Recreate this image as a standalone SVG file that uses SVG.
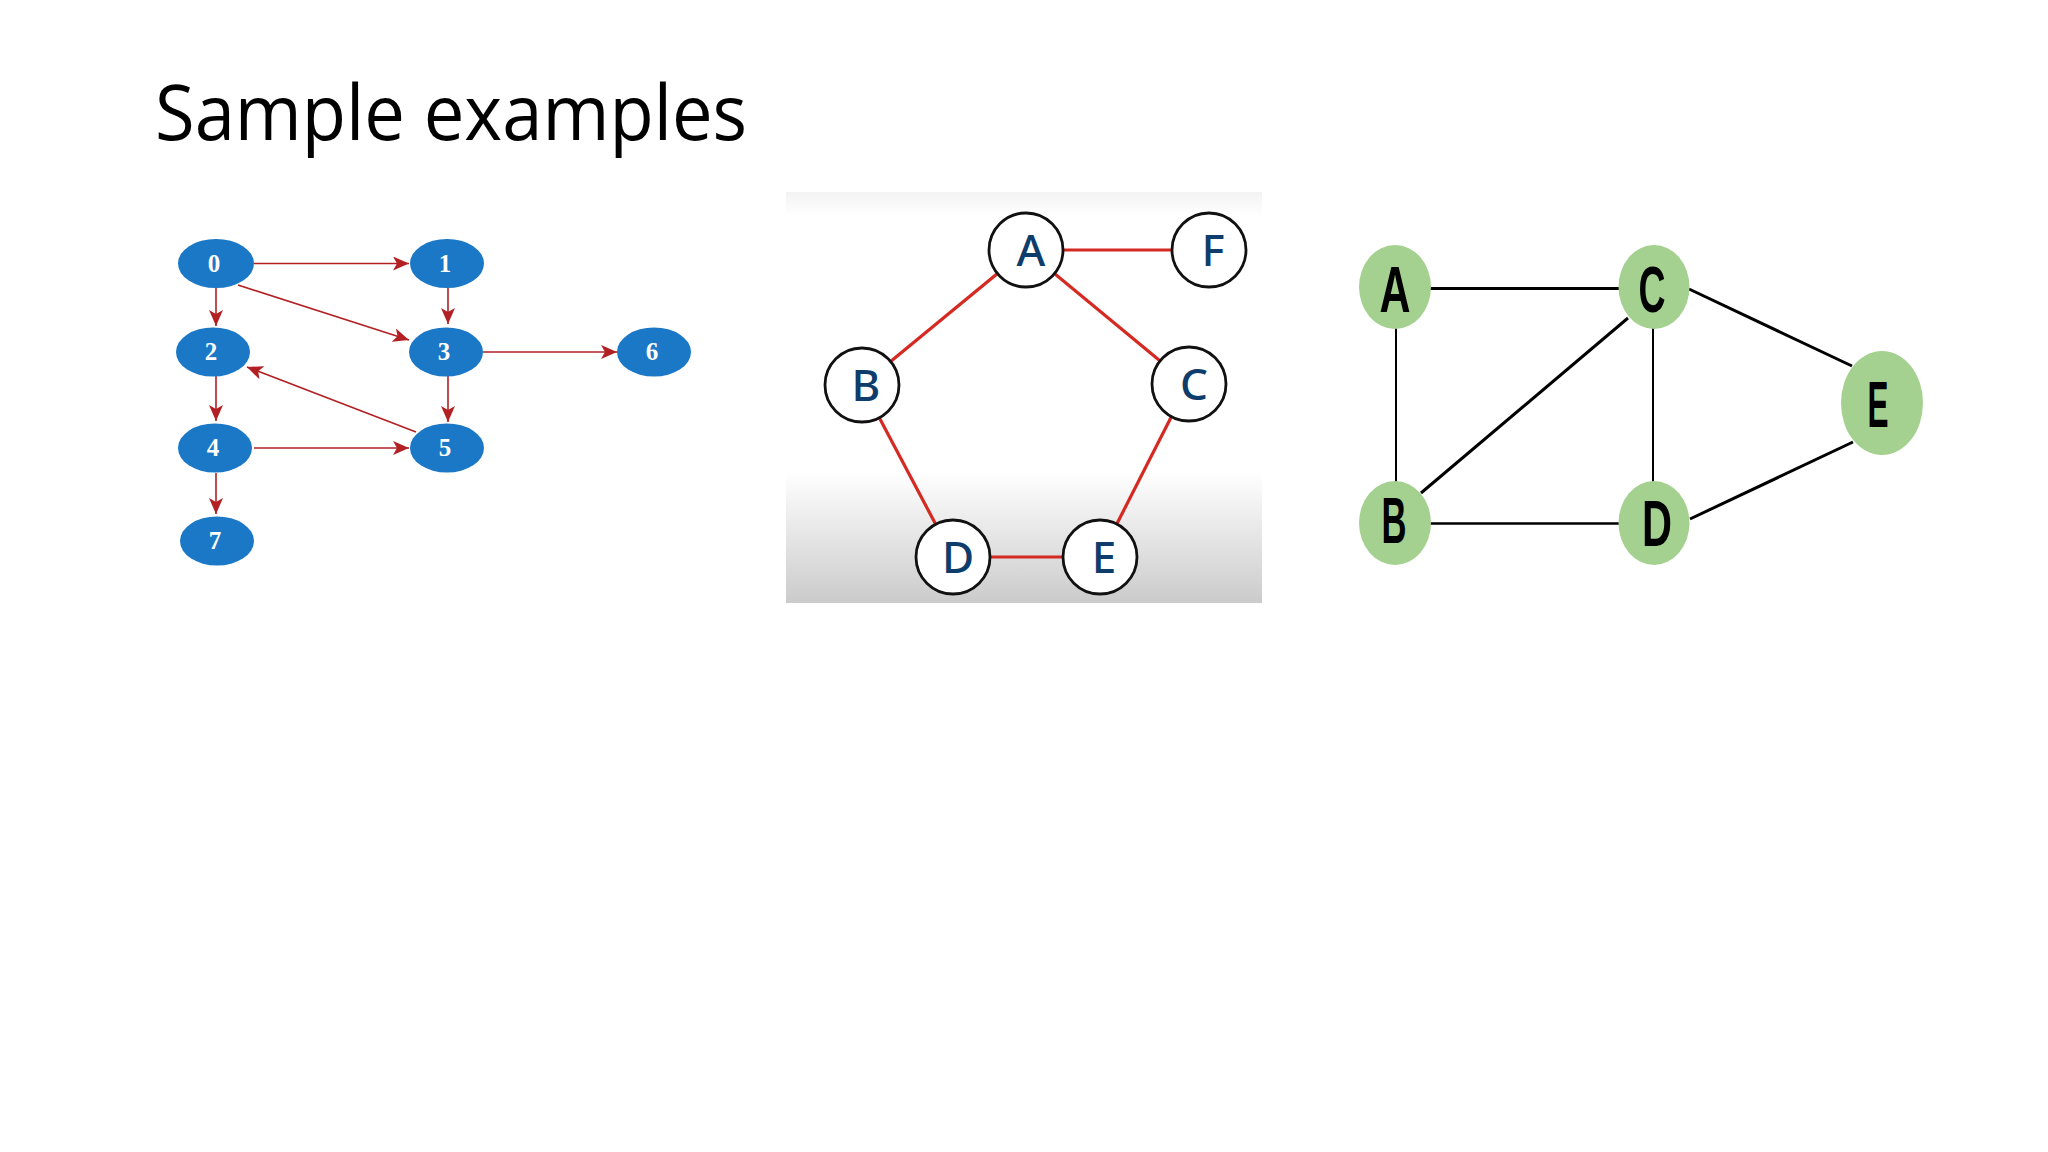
<svg xmlns="http://www.w3.org/2000/svg" width="2048" height="1152" viewBox="0 0 2048 1152">
<style>
.title{font-family:"Open Sans","Liberation Sans",sans-serif;font-size:77px;font-weight:500;fill:#000}
.g1n ellipse{fill:#1b78c6}
.g1n text{font-family:"Liberation Serif",serif;font-weight:bold;font-size:25px;fill:#fff;text-anchor:middle}
.g1e line{stroke:#b22024;stroke-width:1.6;marker-end:url(#arr)}
.g2n circle{fill:#fff;stroke:#111;stroke-width:2.8}
.g2n text{font-family:"Noto Sans","Liberation Sans",sans-serif;font-weight:500;font-size:44px;fill:#0e3d6b;text-anchor:middle}
.g2e line{stroke:#d42a22;stroke-width:3.2}
.g3n ellipse{fill:#a4d18f}
.g3n text{font-family:"Liberation Sans",sans-serif;font-weight:bold;font-size:64px;fill:#000;text-anchor:middle}
.g3e line{stroke:#000;stroke-width:3}
</style>
<defs>
<marker id="arr" markerUnits="userSpaceOnUse" markerWidth="17" markerHeight="14" refX="16" refY="7" orient="auto">
<path d="M0,0 L16,7 L0,14 L4,7 z" fill="#b22024"/>
</marker>
<linearGradient id="bg2" x1="0" y1="0" x2="0" y2="1">
<stop offset="0" stop-color="#f3f3f3"/>
<stop offset="0.06" stop-color="#ffffff"/>
<stop offset="0.68" stop-color="#ffffff"/>
<stop offset="1" stop-color="#cbcbcb"/>
</linearGradient>
</defs>
<rect width="2048" height="1152" fill="#fff"/>
<text class="title" x="155" y="140" textLength="592" lengthAdjust="spacingAndGlyphs">Sample examples</text>

<!-- Graph 1 -->
<g id="graph1-edges" class="g1e">
<line x1="254" y1="263.5" x2="409" y2="263.5"/>
<line x1="216" y1="288" x2="216" y2="326"/>
<line x1="238" y1="285" x2="409" y2="340"/>
<line x1="448" y1="288" x2="448" y2="324"/>
<line x1="483" y1="352" x2="617" y2="352"/>
<line x1="448" y1="376" x2="448" y2="422"/>
<line x1="416" y1="432" x2="247" y2="367"/>
<line x1="216" y1="376" x2="216" y2="421"/>
<line x1="254" y1="448" x2="409" y2="448"/>
<line x1="216" y1="473" x2="216" y2="514"/>
</g>
<g id="n0" class="g1n"><ellipse cx="216" cy="263.5" rx="38" ry="24.5"/><text x="214" y="272">0</text></g>
<g id="n1" class="g1n"><ellipse cx="447" cy="263.5" rx="37" ry="24.5"/><text x="445" y="272">1</text></g>
<g id="n2" class="g1n"><ellipse cx="213" cy="352" rx="37" ry="24.5"/><text x="211" y="360">2</text></g>
<g id="n3" class="g1n"><ellipse cx="446" cy="352" rx="37" ry="24.5"/><text x="444" y="360">3</text></g>
<g id="n6" class="g1n"><ellipse cx="654" cy="352" rx="37" ry="24.5"/><text x="652" y="360">6</text></g>
<g id="n4" class="g1n"><ellipse cx="215" cy="448" rx="37" ry="24.5"/><text x="213" y="456">4</text></g>
<g id="n5" class="g1n"><ellipse cx="447" cy="448" rx="37" ry="24.5"/><text x="445" y="456">5</text></g>
<g id="n7" class="g1n"><ellipse cx="217" cy="541" rx="37" ry="24.5"/><text x="215" y="549">7</text></g>

<!-- Graph 2 -->
<rect x="786" y="192" width="476" height="411" fill="url(#bg2)"/>
<g id="graph2-edges" class="g2e">
<line x1="1026" y1="250" x2="1208" y2="250"/>
<line x1="1026" y1="250" x2="862" y2="385"/>
<line x1="1026" y1="250" x2="1188" y2="384"/>
<line x1="862" y1="385" x2="953" y2="557"/>
<line x1="1188" y1="384" x2="1100" y2="557"/>
<line x1="953" y1="557" x2="1100" y2="557"/>
</g>
<g id="pA" class="g2n"><circle cx="1026" cy="250" r="37"/><text x="1031" y="266">A</text></g>
<g id="pF" class="g2n"><circle cx="1209" cy="250" r="37"/><text x="1213" y="266">F</text></g>
<g id="pB" class="g2n"><circle cx="862" cy="385" r="37"/><text x="866" y="401">B</text></g>
<g id="pC" class="g2n"><circle cx="1189" cy="384" r="37"/><text x="1194" y="400">C</text></g>
<g id="pD" class="g2n"><circle cx="953" cy="557" r="37"/><text x="958" y="573">D</text></g>
<g id="pE" class="g2n"><circle cx="1100" cy="557" r="37"/><text x="1104" y="573">E</text></g>

<!-- Graph 3 -->
<g id="graph3-edges" class="g3e">
<line x1="1430" y1="288.5" x2="1619" y2="288.5"/>
<line x1="1396" y1="328" x2="1396" y2="483" style="stroke-width:2"/>
<line x1="1421" y1="493" x2="1628" y2="318"/>
<line x1="1653" y1="328" x2="1653" y2="483" style="stroke-width:2"/>
<line x1="1430" y1="523.5" x2="1619" y2="523.5" style="stroke-width:2.6"/>
<line x1="1689" y1="289" x2="1852" y2="366"/>
<line x1="1690" y1="519" x2="1853" y2="442"/>
</g>
<g id="gA" class="g3n"><ellipse cx="1395" cy="287" rx="36" ry="42"/><text x="1395" y="312" textLength="31" lengthAdjust="spacingAndGlyphs">A</text></g>
<g id="gC" class="g3n"><ellipse cx="1654" cy="287" rx="35.5" ry="42"/><text x="1652" y="312" textLength="27" lengthAdjust="spacingAndGlyphs">C</text></g>
<g id="gB" class="g3n"><ellipse cx="1395" cy="523" rx="36" ry="42"/><text x="1394" y="543" textLength="25" lengthAdjust="spacingAndGlyphs">B</text></g>
<g id="gD" class="g3n"><ellipse cx="1654" cy="523" rx="35.5" ry="42"/><text x="1657" y="546" textLength="30" lengthAdjust="spacingAndGlyphs">D</text></g>
<g id="gE" class="g3n"><ellipse cx="1882" cy="403" rx="41" ry="52"/><text x="1878" y="427" textLength="21" lengthAdjust="spacingAndGlyphs">E</text></g>
</svg>
